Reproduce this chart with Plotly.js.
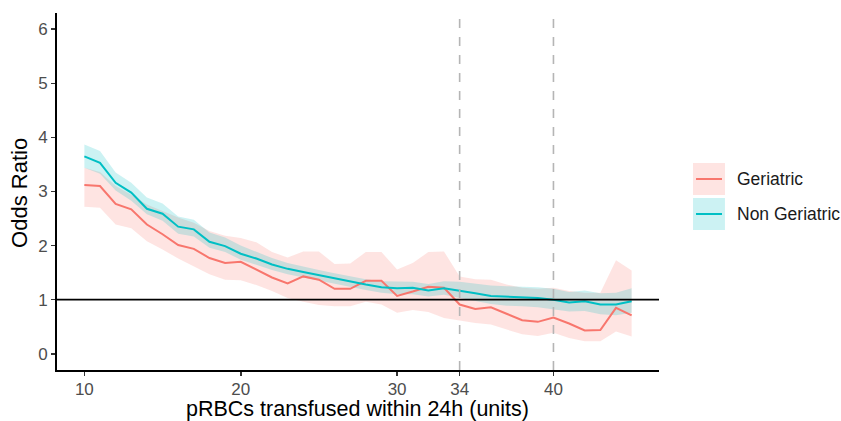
<!DOCTYPE html>
<html>
<head>
<meta charset="utf-8">
<script src="https://cdn.plot.ly/plotly-3.0.1.min.js"></script>
<style>
  html, body { margin: 0; padding: 0; background: #ffffff; }
  #chart { width: 841px; height: 421px; }
</style>
</head>
<body>
<div id="chart"></div>
<script>
// ---- data ----
const units = [10,11,12,13,14,15,16,17,18,19,20,21,22,23,24,25,26,27,28,29,30,31,32,33,34,35,36,37,38,39,40,41,42,43,44,45];

const geriatricOR    = [3.12,3.10,2.77,2.67,2.39,2.21,2.01,1.94,1.77,1.68,1.70,1.56,1.41,1.30,1.43,1.37,1.20,1.20,1.35,1.35,1.07,1.15,1.24,1.22,0.91,0.83,0.86,0.74,0.62,0.59,0.67,0.56,0.43,0.44,0.85,0.71];
const geriatricLower = [2.72,2.70,2.39,2.32,2.08,1.93,1.76,1.62,1.47,1.37,1.36,1.27,1.16,1.03,0.96,0.90,0.88,0.88,0.96,0.91,0.76,0.81,0.77,0.66,0.62,0.57,0.54,0.45,0.36,0.33,0.39,0.29,0.23,0.23,0.41,0.32];
const geriatricUpper = [3.44,3.36,3.10,2.94,2.76,2.64,2.52,2.42,2.27,2.18,2.14,2.06,1.88,1.78,1.89,1.89,1.66,1.67,1.88,1.88,1.56,1.68,1.88,1.89,1.43,1.38,1.37,1.28,1.22,1.20,1.22,1.16,1.13,1.13,1.73,1.54];

const nonGeriatricOR    = [3.65,3.53,3.16,2.98,2.68,2.59,2.35,2.30,2.07,1.99,1.85,1.76,1.65,1.57,1.51,1.45,1.39,1.33,1.28,1.23,1.21,1.22,1.17,1.21,1.17,1.12,1.07,1.06,1.05,1.03,1.00,0.95,0.97,0.91,0.91,0.97];
const nonGeriatricLower = [3.44,3.33,3.02,2.83,2.58,2.46,2.22,2.17,1.96,1.88,1.74,1.65,1.55,1.47,1.41,1.35,1.29,1.24,1.18,1.13,1.10,1.10,1.06,1.09,1.04,0.98,0.92,0.89,0.88,0.86,0.82,0.78,0.79,0.73,0.71,0.76];
const nonGeriatricUpper = [3.87,3.75,3.35,3.16,2.89,2.78,2.54,2.48,2.24,2.15,2.00,1.88,1.77,1.68,1.61,1.55,1.49,1.43,1.38,1.34,1.33,1.33,1.29,1.34,1.33,1.30,1.26,1.25,1.24,1.23,1.20,1.14,1.17,1.12,1.13,1.21];

const seriesNames = ['Geriatric', 'Non Geriatric'];
const xTickVals = [10, 20, 30, 34, 40];
const yTickVals = [0, 1, 2, 3, 4, 5, 6];
const cutoffLines = [34, 40];
const referenceOR = 1;
const xTitle = 'pRBCs transfused within 24h (units)';
const yTitle = 'Odds Ratio';

// ---- styles ----
const lineColors = ['#F8766D', '#00BFC4'];
const fillColors = ['rgba(248,118,109,0.2)', 'rgba(0,191,196,0.2)'];
const FONT = 'Liberation Sans, Arial, sans-serif';

function ribbon(lower, upper, color) {
  return {
    x: units.concat(units.slice().reverse()),
    y: upper.concat(lower.slice().reverse()),
    type: 'scatter', mode: 'lines', fill: 'toself',
    fillcolor: color, line: {width: 0, color: 'rgba(0,0,0,0)'},
    hoverinfo: 'skip', showlegend: false
  };
}
function line(y, color, name) {
  return {
    x: units, y: y, type: 'scatter', mode: 'lines', name: name,
    line: {color: color, width: 2}, showlegend: false
  };
}

const traces = [
  ribbon(geriatricLower, geriatricUpper, fillColors[0]),
  ribbon(nonGeriatricLower, nonGeriatricUpper, fillColors[1]),
  line(geriatricOR, lineColors[0], seriesNames[0]),
  line(nonGeriatricOR, lineColors[1], seriesNames[1])
];

const shapes = [];
cutoffLines.forEach(v => shapes.push({
  type: 'line', xref: 'x', yref: 'paper', x0: v, x1: v, y0: 0, y1: 1,
  line: {color: '#B5B5B5', width: 1.6, dash: 'dash'}, layer: 'above'
}));
shapes.push({
  type: 'line', xref: 'paper', yref: 'y', x0: 0, x1: 1, y0: referenceOR, y1: referenceOR,
  line: {color: '#000000', width: 1.8}, layer: 'above'
});

// manual legend (ggplot-style keys: filled square with a line)
const annotations = [];
const legendBoxes = [[0.5798, 0.4902], [0.4818, 0.3922]];
seriesNames.forEach((nm, i) => {
  const [top, bot] = legendBoxes[i];
  const mid = (top + bot) / 2;
  shapes.push({type: 'rect', xref: 'paper', yref: 'paper', x0: 1.0565, x1: 1.1096, y0: bot, y1: top,
    fillcolor: fillColors[i], line: {width: 0}});
  shapes.push({type: 'line', xref: 'paper', yref: 'paper', x0: 1.0615, x1: 1.1047, y0: mid, y1: mid,
    line: {color: lineColors[i], width: 2}});
  annotations.push({xref: 'paper', yref: 'paper', x: 1.127, y: mid, xanchor: 'left', yanchor: 'middle',
    text: nm, showarrow: false, font: {family: FONT, size: 17.5, color: '#1a1a1a'}});
});

// axis titles placed as annotations for exact positioning
annotations.push({xref: 'paper', yref: 'paper', x: 0.499, y: -0.1105, xanchor: 'center', yanchor: 'middle',
  text: xTitle, showarrow: false, font: {family: FONT, size: 21.5, color: '#000000'}});
annotations.push({xref: 'paper', yref: 'paper', x: -0.0615, y: 0.496, xanchor: 'center', yanchor: 'middle',
  textangle: -90, text: yTitle, showarrow: false, font: {family: FONT, size: 22, color: '#000000'}});

const layout = {
  width: 841, height: 421,
  margin: {l: 57, r: 182, t: 13, b: 51},
  paper_bgcolor: '#ffffff', plot_bgcolor: '#ffffff',
  font: {family: FONT, size: 17, color: '#4D4D4D'},
  showlegend: false,
  xaxis: {
    range: [8.25, 46.75], tickmode: 'array', tickvals: xTickVals, ticktext: xTickVals.map(String),
    showgrid: false, zeroline: false, showline: true, linecolor: '#000000', linewidth: 2,
    ticks: 'outside', ticklen: 4, tickwidth: 1.6, tickcolor: '#333333',
    ticklabelstandoff: -1,
    tickfont: {family: FONT, size: 17, color: '#4D4D4D'}
  },
  yaxis: {
    range: [-0.3, 6.3], tickmode: 'array', tickvals: yTickVals, ticktext: yTickVals.map(String),
    showgrid: false, zeroline: false, showline: true, linecolor: '#000000', linewidth: 2,
    ticks: 'outside', ticklen: 4, tickwidth: 1.6, tickcolor: '#333333',
    tickfont: {family: FONT, size: 17, color: '#4D4D4D'}
  },
  shapes: shapes,
  annotations: annotations
};

Plotly.newPlot('chart', traces, layout, {staticPlot: true, displayModeBar: false});
</script>
</body>
</html>
